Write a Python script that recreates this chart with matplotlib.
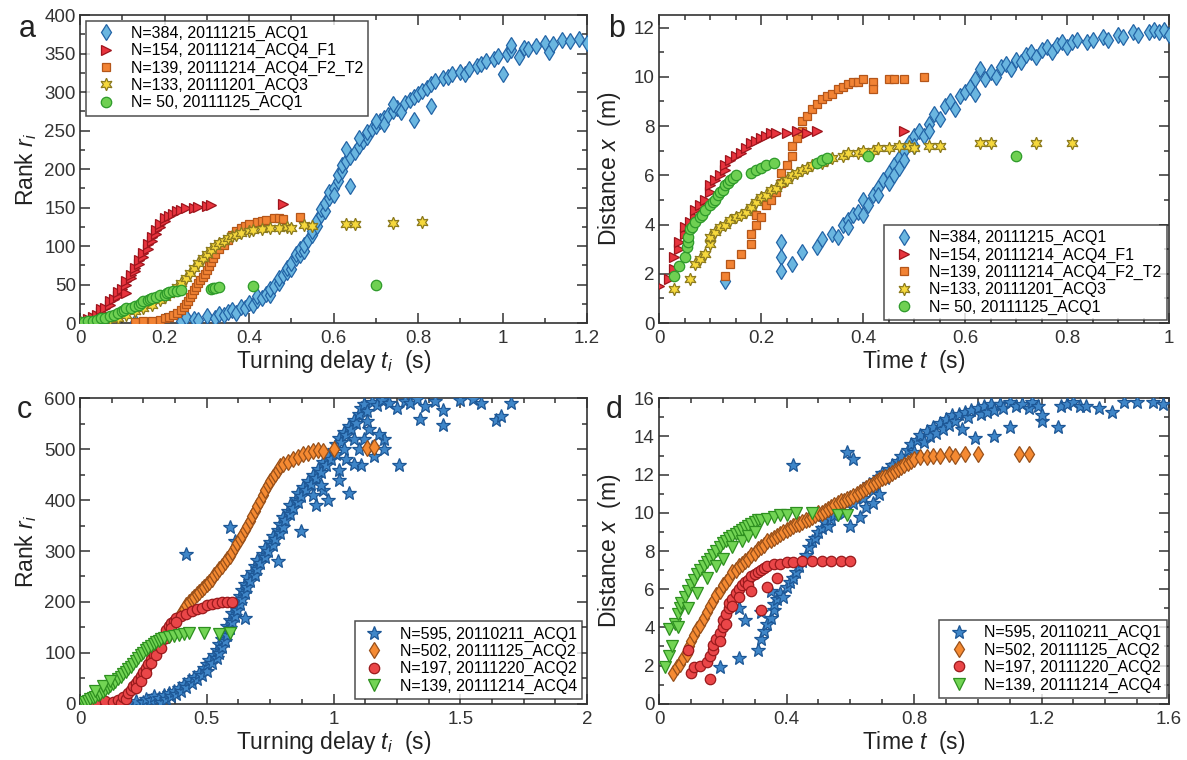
import numpy as np
import matplotlib
matplotlib.use("Agg")
import matplotlib.pyplot as plt
from matplotlib.ticker import MultipleLocator

plt.rcParams["font.family"] = ["Liberation Sans", "DejaVu Sans"]
plt.rcParams["mathtext.fontset"] = "custom"
plt.rcParams["mathtext.rm"] = "Liberation Sans"
plt.rcParams["mathtext.it"] = "Liberation Sans:italic"

# ---- panel a : rank vs turning delay (t, rank) ----
a_blue = [(0.13,1),(0.24,3),(0.25,8),(0.27,5),(0.28,4),(0.30,9),(0.32,7),(0.33,12),(0.34,10),(0.35,14),
          (0.36,17),(0.37,13),(0.38,21),(0.39,19),(0.40,26),(0.41,24),(0.42,30),(0.42,35),(0.43,33),(0.44,38),
          (0.45,36),(0.45,44),(0.46,48),(0.47,52),(0.47,58),(0.48,62),(0.49,66),(0.49,72),(0.50,70),(0.50,78),
          (0.51,84),(0.51,90),(0.52,88),(0.52,96),(0.53,94),(0.53,102),(0.54,108),(0.55,114),(0.55,120),(0.56,126),
          (0.56,134),(0.57,140),(0.57,148),(0.58,145),(0.58,156),(0.59,162),(0.59,170),(0.60,176),(0.60,166),(0.61,184),
          (0.61,192),(0.62,198),(0.62,205),(0.63,210),(0.64,216),(0.63,226),(0.64,178),(0.65,222),(0.66,230),(0.67,236),
          (0.68,242),(0.68,248),(0.69,252),(0.70,256),(0.71,262),(0.72,266),(0.72,258),(0.73,270),(0.74,276),(0.75,280),
          (0.76,274),(0.77,286),(0.78,290),(0.79,264),(0.79,294),(0.80,298),(0.81,302),(0.82,305),(0.83,282),(0.83,310),
          (0.84,314),(0.86,318),(0.87,320),(0.88,323),(0.90,326),(0.91,324),(0.92,330),(0.94,334),(0.95,337),(0.96,340),
          (0.98,343),(0.99,347),(1.00,324),(1.01,350),(1.02,355),(1.02,361),(1.04,346),(1.05,358),(1.06,356),(1.08,360),
          (1.10,364),(1.11,352),(1.12,362),(1.14,368),(1.16,366),(1.18,369),(1.20,364),(0.66,240),(0.70,262),(0.74,284)]
a_red = [(0.00,1),(0.01,3),(0.02,5),(0.03,8),(0.04,11),(0.05,14),(0.05,18),(0.06,20),(0.07,24),(0.07,28),
         (0.08,31),(0.09,35),(0.09,40),(0.10,44),(0.11,39),(0.11,49),(0.11,54),(0.12,58),(0.12,63),(0.13,67),
         (0.13,72),(0.14,77),(0.14,82),(0.15,86),(0.15,91),(0.16,96),(0.16,103),(0.17,106),(0.17,112),(0.18,116),
         (0.18,121),(0.19,125),(0.19,129),(0.20,132),(0.20,136),(0.21,139),(0.22,142),(0.23,145),(0.24,147),(0.25,149),
         (0.27,150),(0.28,151),(0.30,152),(0.31,153),(0.48,154)]
a_orange = [(0.13,1),(0.15,2),(0.17,3),(0.19,4),(0.20,6),(0.21,8),(0.22,10),(0.23,13),(0.24,17),(0.245,21),
            (0.25,25),(0.255,29),(0.26,34),(0.265,38),(0.27,43),(0.275,47),(0.28,52),(0.285,56),(0.29,60),(0.295,64),
            (0.30,69),(0.305,74),(0.31,79),(0.315,85),(0.32,90),(0.33,96),(0.34,102),(0.35,108),(0.36,114),(0.37,119),
            (0.38,123),(0.39,126),(0.40,129),(0.42,131),(0.43,133),(0.44,134),(0.46,136),(0.47,137),(0.48,135),(0.52,138)]
a_yellow = [(0.00,0),(0.03,1),(0.05,3),(0.07,5),(0.09,7),(0.11,11),(0.13,15),(0.15,19),(0.17,24),(0.19,30),
            (0.20,34),(0.21,38),(0.22,42),(0.23,47),(0.24,52),(0.25,58),(0.26,65),(0.27,72),(0.28,78),(0.29,84),
            (0.30,90),(0.31,95),(0.32,100),(0.33,104),(0.34,107),(0.35,110),(0.36,113),(0.37,115),(0.38,117),(0.40,119),
            (0.41,121),(0.43,122),(0.45,123),(0.47,124),(0.49,125),(0.50,124),(0.53,127),(0.55,126),(0.63,129),(0.65,129),
            (0.74,130),(0.81,131)]
a_green = [(0.00,1),(0.01,1),(0.02,2),(0.03,3),(0.04,4),(0.05,6),(0.06,7),(0.07,9),(0.08,11),(0.09,13),
           (0.10,15),(0.105,17),(0.11,19),(0.12,20),(0.13,22),(0.14,24),(0.145,26),(0.15,28),(0.16,30),(0.165,31),
           (0.17,33),(0.18,34),(0.19,36),(0.20,37),(0.205,39),(0.21,40),(0.22,41),(0.23,42),(0.24,43),(0.31,44),
           (0.315,45),(0.32,46),(0.33,47),(0.41,48),(0.70,49)]

# ---- panel b : distance vs time (t, x) ----
b_blue = [(0.13,1.7),(0.24,3.3),(0.24,2.7),(0.24,2.1),(0.26,2.4),(0.28,2.9),(0.31,3.1),(0.32,3.4),(0.34,3.6),(0.35,3.5),
          (0.36,4.0),(0.37,4.2),(0.37,3.9),(0.38,4.4),(0.39,4.5),(0.40,4.4),(0.40,5.0),(0.41,4.8),(0.42,5.2),(0.43,5.5),
          (0.43,5.2),(0.44,5.8),(0.45,6.1),(0.45,5.7),(0.46,6.4),(0.46,6.0),(0.47,6.7),(0.47,6.3),(0.48,7.0),(0.48,6.6),
          (0.49,7.3),(0.50,7.6),(0.50,7.2),(0.51,7.8),(0.52,7.6),(0.53,8.1),(0.53,7.8),(0.54,8.5),(0.55,8.3),(0.56,8.8),
          (0.57,9.0),(0.58,8.7),(0.59,9.2),(0.60,9.4),(0.61,9.6),(0.62,9.9),(0.62,9.3),(0.63,10.3),(0.64,9.9),(0.65,10.2),
          (0.66,10.0),(0.67,10.4),(0.68,10.5),(0.69,10.3),(0.70,10.7),(0.71,10.6),(0.72,10.9),(0.73,11.0),(0.74,10.8),(0.75,11.1),
          (0.76,11.2),(0.77,11.0),(0.78,11.3),(0.79,11.4),(0.80,11.2),(0.81,11.4),(0.82,11.5),(0.84,11.4),(0.85,11.5),(0.87,11.6),
          (0.88,11.5),(0.90,11.7),(0.91,11.6),(0.93,11.8),(0.94,11.7),(0.96,11.8),(0.97,11.9),(0.98,11.8),(0.99,11.9),(1.00,11.7)]
b_red = [(0.00,1.5),(0.02,1.8),(0.03,2.2),(0.03,2.7),(0.04,3.0),(0.04,3.3),(0.05,3.6),(0.05,3.9),(0.06,4.1),(0.07,4.3),
         (0.07,4.6),(0.08,4.8),(0.09,5.0),(0.10,5.3),(0.10,5.6),(0.11,5.8),(0.12,6.0),(0.13,6.2),(0.13,6.4),(0.14,6.6),
         (0.15,6.8),(0.16,6.9),(0.17,7.1),(0.18,7.3),(0.19,7.4),(0.20,7.5),(0.21,7.6),(0.22,7.7),(0.23,7.7),(0.25,7.7),
         (0.27,7.8),(0.29,7.7),(0.31,7.8),(0.48,7.8)]
b_orange = [(0.13,1.9),(0.14,2.4),(0.16,2.8),(0.18,3.2),(0.18,3.6),(0.19,4.0),(0.19,4.4),(0.20,4.3),(0.21,4.8),(0.22,5.0),
            (0.23,5.3),(0.24,5.7),(0.24,6.1),(0.25,6.4),(0.26,6.8),(0.26,7.2),(0.27,7.5),(0.28,7.8),(0.28,8.2),(0.29,8.4),
            (0.30,8.7),(0.31,8.9),(0.32,9.1),(0.33,9.2),(0.34,9.3),(0.35,9.5),(0.36,9.6),(0.37,9.7),(0.38,9.8),(0.39,9.8),
            (0.40,9.9),(0.42,9.8),(0.42,9.5),(0.45,9.9),(0.46,9.9),(0.48,9.9),(0.52,10.0)]
b_yellow = [(0.03,1.4),(0.06,1.8),(0.07,2.4),(0.08,2.6),(0.09,2.8),(0.10,3.2),(0.10,3.5),(0.11,3.7),(0.12,3.9),(0.13,4.0),
            (0.14,4.2),(0.15,4.3),(0.16,4.4),(0.17,4.5),(0.18,4.7),(0.19,4.9),(0.20,5.1),(0.21,5.2),(0.22,5.4),(0.23,5.5),
            (0.24,5.7),(0.25,5.8),(0.26,6.0),(0.27,6.1),(0.28,6.2),(0.29,6.3),(0.30,6.4),(0.32,6.5),(0.33,6.6),(0.34,6.7),
            (0.36,6.8),(0.37,6.9),(0.39,6.9),(0.40,7.0),(0.42,7.0),(0.43,7.1),(0.45,7.1),(0.47,7.2),(0.49,7.2),(0.50,7.1),
            (0.53,7.2),(0.55,7.2),(0.63,7.3),(0.65,7.3),(0.74,7.3),(0.81,7.3)]
b_green = [(0.03,1.9),(0.04,2.3),(0.05,2.7),(0.055,3.1),(0.056,3.3),(0.057,3.5),(0.06,3.8),(0.065,3.9),(0.07,4.1),(0.08,4.3),
           (0.085,4.4),(0.09,4.6),(0.10,4.8),(0.105,4.9),(0.11,5.0),(0.115,5.2),(0.12,5.3),(0.125,5.4),(0.13,5.6),(0.135,5.7),
           (0.14,5.8),(0.145,5.9),(0.15,6.0),(0.18,6.1),(0.19,6.2),(0.20,6.3),(0.21,6.4),(0.225,6.5),(0.31,6.5),(0.32,6.6),
           (0.33,6.7),(0.41,6.8),(0.70,6.8)]

# ---- panel c : rank vs turning delay ----
c_blue = [(0.19,2),(0.22,5),(0.25,3),(0.26,10),(0.28,7),(0.29,16),(0.31,12),(0.32,4),(0.33,18),(0.34,9),
          (0.35,22),(0.36,15),(0.37,26),(0.38,20),(0.39,31),(0.40,25),(0.41,38),(0.42,33),(0.43,46),(0.44,40),
          (0.45,53),(0.46,48),(0.47,60),(0.48,56),(0.49,70),(0.50,64),(0.50,78),(0.51,86),(0.52,80),(0.53,95),
          (0.54,90),(0.54,105),(0.55,100),(0.55,118),(0.56,112),(0.56,128),(0.57,124),(0.57,140),(0.58,135),(0.58,152),
          (0.59,148),(0.59,165),(0.60,160),(0.60,178),(0.61,172),(0.61,190),(0.62,185),(0.62,200),(0.63,196),(0.63,212),
          (0.64,205),(0.64,224),(0.65,218),(0.65,236),(0.66,230),(0.66,248),(0.67,242),(0.68,258),(0.69,252),(0.69,270),
          (0.70,264),(0.70,282),(0.71,276),(0.72,294),(0.73,288),(0.73,306),(0.74,300),(0.75,318),(0.76,312),(0.76,330),
          (0.77,324),(0.78,342),(0.79,336),(0.79,354),(0.80,348),(0.80,366),(0.81,360),(0.82,378),(0.83,372),(0.83,390),
          (0.84,384),(0.85,402),(0.86,396),(0.86,414),(0.87,408),(0.88,426),(0.89,420),(0.90,438),(0.91,432),(0.92,450),
          (0.93,444),(0.94,462),(0.95,456),(0.96,474),(0.97,468),(0.98,486),(0.99,480),(1.00,498),(1.01,510),(1.01,490),
          (1.02,522),(1.03,515),(1.04,534),(1.05,528),(1.06,546),(1.07,540),(1.08,558),(1.09,552),(1.10,570),(1.11,580),
          (1.12,588),(1.13,575),(1.15,592),(1.17,586),(1.19,596),(1.22,590),(1.25,580),(1.28,595),(1.30,590),(1.33,598),
          (1.36,585),(1.40,594),(1.50,597),(1.55,598),(1.58,590),(1.70,590),
          (0.42,295),(0.59,348),(0.61,319),(0.65,168),(0.78,281),(0.87,339),(0.98,400),(1.06,413),(0.93,390),(1.11,468),
          (1.26,468),(1.16,487),(1.20,500),(1.20,519),(1.34,560),(1.43,548),(1.43,577),(1.64,557),(1.66,565),(1.02,440),
          (0.96,420),(0.92,410),(0.95,430),(1.02,460),(1.05,480),(1.08,470),(1.10,500),(1.12,520),(1.14,540),(1.18,530),
          (1.15,505),(1.04,500),(1.08,520),(1.13,555)]
c_orange = [(0.40,179),(0.41,186),(0.42,193),(0.43,199),(0.44,205),(0.45,210),(0.46,215),(0.47,220),(0.48,225),(0.49,230),
            (0.50,236),(0.51,240),(0.52,245),(0.53,252),(0.54,258),(0.55,264),(0.56,271),(0.57,278),(0.58,284),(0.59,290),
            (0.60,298),(0.61,307),(0.62,315),(0.63,323),(0.64,332),(0.65,341),(0.66,350),(0.67,359),(0.68,368),(0.69,378),
            (0.70,388),(0.71,398),(0.72,410),(0.73,420),(0.74,429),(0.75,437),(0.76,445),(0.77,452),(0.78,460),(0.79,466),
            (0.80,470),(0.82,474),(0.84,480),(0.86,484),(0.88,490),(0.90,493),(0.92,496),(0.94,498),(0.96,496),(1.00,500),
            (1.13,502),(1.16,504)]
c_red = [(0.02,0),(0.06,2),(0.10,5),(0.13,3),(0.15,8),(0.16,1),(0.17,14),(0.18,10),(0.19,21),(0.20,27),
         (0.21,34),(0.22,40),(0.23,47),(0.24,54),(0.25,62),(0.26,70),(0.27,78),(0.28,88),(0.29,96),(0.30,105),
         (0.31,114),(0.32,124),(0.33,134),(0.34,144),(0.35,152),(0.36,158),(0.37,163),(0.38,168),(0.40,172),(0.42,177),
         (0.44,182),(0.46,186),(0.48,189),(0.50,193),(0.52,195),(0.54,197),(0.56,199),(0.58,199),(0.60,200),
         (0.22,30),(0.24,45),(0.26,60),(0.28,80),(0.30,95),(0.32,110),(0.34,130),(0.36,148),(0.38,160)]
c_green = [(0.00,0),(0.01,2),(0.02,4),(0.03,6),(0.04,9),(0.05,11),(0.06,14),(0.07,17),(0.08,20),(0.09,24),
           (0.10,28),(0.11,31),(0.12,35),(0.13,39),(0.14,43),(0.15,48),(0.16,53),(0.17,58),(0.18,63),(0.19,68),
           (0.20,73),(0.21,78),(0.22,84),(0.23,90),(0.24,95),(0.25,100),(0.26,105),(0.27,109),(0.28,113),(0.29,117),
           (0.30,121),(0.31,124),(0.32,127),(0.33,130),(0.35,132),(0.37,134),(0.39,136),(0.41,137),(0.43,138),(0.49,139),
           (0.55,137),(0.59,139),(0.06,25),(0.09,35),(0.12,45)]

# ---- panel d : distance vs time ----
d_blue = [(0.19,1.9),(0.25,2.4),(0.31,2.8),(0.32,3.4),(0.33,3.8),(0.34,4.2),(0.35,4.5),(0.36,4.9),(0.36,5.2),(0.37,5.5),
          (0.38,5.8),(0.39,5.6),(0.40,6.1),(0.41,6.4),(0.42,6.6),(0.43,6.9),(0.44,7.2),(0.45,7.5),(0.46,7.8),(0.47,8.2),
          (0.48,8.5),(0.49,8.7),(0.50,9.0),(0.51,9.2),(0.52,9.5),(0.53,9.3),(0.54,9.7),(0.55,9.9),(0.56,10.1),(0.57,10.3),
          (0.58,10.0),(0.59,10.5),(0.60,10.7),(0.61,10.5),(0.62,10.9),(0.63,11.1),(0.64,10.8),(0.65,11.3),(0.66,11.5),(0.67,11.2),
          (0.68,11.7),(0.69,11.9),(0.70,12.1),(0.71,11.8),(0.72,12.3),(0.73,12.5),(0.74,12.2),(0.75,12.7),(0.76,13.0),(0.77,12.6),
          (0.78,13.3),(0.79,13.6),(0.80,13.2),(0.81,13.8),(0.82,14.1),(0.83,13.7),(0.84,14.3),(0.85,14.0),(0.86,14.5),(0.87,14.2),
          (0.88,14.7),(0.89,14.4),(0.90,14.9),(0.91,14.6),(0.92,15.1),(0.93,14.8),(0.94,15.2),(0.95,14.4),(0.96,15.3),(0.97,15.0),
          (0.98,15.4),(0.99,13.9),(1.00,15.5),(1.01,15.2),(1.02,15.6),(1.03,15.3),(1.04,15.7),(1.05,15.4),(1.05,14.0),(1.07,15.7),
          (1.08,15.5),(1.10,15.8),(1.10,14.5),(1.12,15.6),(1.14,15.7),(1.16,15.5),(1.17,15.8),(1.19,15.6),(1.20,14.8),(1.20,15.1),
          (1.25,14.5),(1.26,15.6),(1.28,15.7),(1.30,15.8),(1.32,15.6),(1.34,15.6),(1.38,15.5),(1.42,15.3),(1.46,15.8),(1.50,15.8),
          (1.55,15.8),(1.58,15.7),
          (0.42,12.5),(0.59,13.2),(0.61,12.8),(0.25,5.0),(0.27,4.4),(0.32,4.8),(0.35,5.9),(0.60,9.3),(0.63,9.8),(0.65,10.3),
          (0.67,10.5),(0.69,11.0)]
d_orange = [(0.045,1.6),(0.055,1.9),(0.066,2.1),(0.075,2.4),(0.087,2.6),(0.095,3.0),(0.10,3.3),(0.11,3.6),(0.12,3.9),(0.13,4.1),
            (0.14,4.5),(0.15,4.8),(0.16,5.1),(0.17,5.4),(0.18,5.7),(0.19,5.9),(0.20,6.2),(0.21,6.4),(0.22,6.6),(0.23,6.9),
            (0.24,7.0),(0.25,7.2),(0.26,7.3),(0.27,7.5),(0.28,7.6),(0.29,7.8),(0.30,7.9),(0.31,8.1),(0.32,8.2),(0.33,8.3),
            (0.34,8.5),(0.35,8.6),(0.36,8.7),(0.37,8.8),(0.38,8.9),(0.39,9.0),(0.40,9.1),(0.41,9.2),(0.42,9.3),(0.43,9.4),
            (0.44,9.4),(0.45,9.5),(0.46,9.6),(0.47,9.7),(0.48,9.8),(0.49,9.9),(0.50,10.0),(0.51,10.0),(0.52,10.1),(0.53,10.2),
            (0.54,10.3),(0.55,10.4),(0.56,10.5),(0.57,10.6),(0.58,10.6),(0.59,10.7),(0.60,10.8),(0.61,10.9),(0.62,11.0),(0.63,11.1),
            (0.64,11.2),(0.65,11.3),(0.66,11.4),(0.67,11.5),(0.68,11.6),(0.69,11.7),(0.70,11.8),(0.71,11.9),(0.72,12.0),(0.73,12.1),
            (0.74,12.2),(0.75,12.3),(0.76,12.4),(0.77,12.5),(0.78,12.6),(0.79,12.7),(0.80,12.8),(0.82,12.9),(0.84,12.9),(0.86,13.0),
            (0.88,13.0),(0.91,13.1),(0.93,13.0),(0.96,13.1),(1.00,13.1),(1.13,13.1),(1.16,13.1)]
d_red = [(0.10,1.6),(0.16,1.3),(0.11,1.9),(0.13,2.0),(0.09,2.8),(0.15,2.2),(0.16,2.5),(0.17,2.8),(0.17,3.1),(0.18,3.4),
         (0.19,3.7),(0.19,3.3),(0.20,4.0),(0.20,4.4),(0.21,4.7),(0.21,4.2),(0.22,5.0),(0.22,5.3),(0.23,5.5),(0.23,5.1),
         (0.24,5.8),(0.25,6.0),(0.25,5.6),(0.26,6.2),(0.27,6.4),(0.28,6.5),(0.28,6.2),(0.29,6.7),(0.30,6.8),(0.31,6.9),
         (0.32,7.0),(0.33,7.1),(0.34,7.2),(0.36,7.3),(0.38,7.3),(0.40,7.4),(0.42,7.4),(0.45,7.5),(0.48,7.5),(0.51,7.5),
         (0.54,7.5),(0.57,7.5),(0.60,7.5),(0.29,5.9),(0.32,4.9),(0.34,6.1),(0.37,6.6)]
d_green = [(0.02,1.9),(0.03,2.5),(0.04,3.0),(0.03,3.9),(0.05,4.2),(0.06,4.7),(0.065,5.0),(0.07,5.3),(0.08,5.6),(0.09,5.9),
           (0.10,6.2),(0.11,6.5),(0.12,6.8),(0.13,7.0),(0.14,7.2),(0.15,7.4),(0.16,7.6),(0.17,7.8),(0.18,8.0),(0.19,8.2),
           (0.20,8.4),(0.21,8.5),(0.22,8.7),(0.23,8.8),(0.24,8.9),(0.25,9.0),(0.26,9.1),(0.27,9.2),(0.28,9.3),(0.29,9.4),
           (0.30,9.5),(0.31,9.6),(0.32,9.6),(0.34,9.7),(0.36,9.8),(0.38,9.9),(0.40,9.9),(0.43,10.0),(0.48,10.0),(0.56,9.9),
           (0.59,9.9),(0.06,4.0),(0.09,5.0),(0.12,5.8),(0.15,6.6),(0.18,7.2),(0.20,7.6),(0.23,8.2),(0.26,8.5),(0.28,8.8),(0.30,9.0)]

labels_top = ["N=384, 20111215_ACQ1", "N=154, 20111214_ACQ4_F1", "N=139, 20111214_ACQ4_F2_T2",
              "N=133, 20111201_ACQ3", "N= 50, 20111125_ACQ1"]
labels_bottom = ["N=595, 20110211_ACQ1", "N=502, 20111125_ACQ2", "N=197, 20111220_ACQ2",
                 "N=139, 20111214_ACQ4"]

# marker styles (marker, size, face, edge)
sty_top = [("d", 8.5, "#6ab6e0", "#2364a6"),
           (">", 7.5, "#e8343e", "#9e141c"),
           ("s", 6, "#f28334", "#b4561a"),
           ((6, 1, 0), 9, "#f6d83c", "#8c7a1e"),
           ("o", 7.5, "#6fd052", "#2e9a2a")]
sty_bottom = [("*", 10.5, "#3f86c8", "#1d5796"),
              ("d", 8.5, "#f58a32", "#98501a"),
              ("o", 7.5, "#ea4648", "#9a1a1c"),
              ("v", 8, "#72d454", "#2e9020")]


def scatter(ax, pts, sty, label, z):
    arr = np.array(pts, dtype=float)
    m, ms, fc, ec = sty
    ax.plot(arr[:, 0], arr[:, 1], linestyle="none", marker=m, ms=ms,
            mfc=fc, mec=ec, mew=0.9, label=label, zorder=z)


def style_axes(ax, xmax, ymax, xmaj, xmin, ymaj, ymin):
    ax.set_xlim(0, xmax)
    ax.set_ylim(0, ymax)
    ax.xaxis.set_major_locator(MultipleLocator(xmaj))
    ax.xaxis.set_minor_locator(MultipleLocator(xmin))
    ax.yaxis.set_major_locator(MultipleLocator(ymaj))
    ax.yaxis.set_minor_locator(MultipleLocator(ymin))
    ax.tick_params(which="both", direction="in", top=True, right=True,
                   colors="#333333", labelsize=13.5, width=1.1)
    ax.tick_params(which="major", length=7)
    ax.tick_params(axis="x", which="major", pad=5)
    ax.tick_params(axis="y", which="major", pad=3)
    ax.tick_params(which="minor", length=3.5)
    for sp in ax.spines.values():
        sp.set_color("#333333")
        sp.set_linewidth(1.2)


def fmt(v, pos):
    s = ("%.2f" % v).rstrip("0").rstrip(".")
    return s


fig = plt.figure(figsize=(11.87, 7.6), dpi=100)
ax_a = fig.add_axes([0.0674, 0.575, 0.4272, 0.405])
ax_b = fig.add_axes([0.5552, 0.575, 0.4297, 0.405])
ax_c = fig.add_axes([0.0674, 0.074, 0.4272, 0.402])
ax_d = fig.add_axes([0.5552, 0.074, 0.4297, 0.402])

for pts, sty, lab, z in zip([a_blue, a_red, a_orange, a_yellow, a_green], sty_top, labels_top, [3, 4, 3, 4, 5]):
    scatter(ax_a, pts, sty, lab, z)
for pts, sty, lab, z in zip([b_blue, b_red, b_orange, b_yellow, b_green], sty_top, labels_top, [3, 4, 3, 4, 5]):
    scatter(ax_b, pts, sty, lab, z)
for pts, sty, lab, z in zip([c_blue, c_orange, c_red, c_green], sty_bottom, labels_bottom, [3, 4, 5, 6]):
    scatter(ax_c, pts, sty, lab, z)
for pts, sty, lab, z in zip([d_blue, d_orange, d_red, d_green], sty_bottom, labels_bottom, [3, 4, 5, 6]):
    scatter(ax_d, pts, sty, lab, z)

style_axes(ax_a, 1.2, 400, 0.2, 0.1, 50, 25)
style_axes(ax_b, 1.0, 12.5, 0.2, 0.05, 2, 1)
style_axes(ax_c, 2.0, 600, 0.5, 0.125, 100, 50)
style_axes(ax_d, 1.6, 16, 0.4, 0.1, 2, 1)
for ax in (ax_a, ax_b, ax_c, ax_d):
    ax.xaxis.set_major_formatter(plt.FuncFormatter(fmt))

lab_kw = dict(fontsize=16.5, color="#222222")
ax_a.set_xlabel("Turning delay $t_i$  (s)", labelpad=1, **lab_kw)
ax_a.set_ylabel("Rank $r_i$", labelpad=4, **lab_kw)
ax_b.set_xlabel("Time $t$  (s)", labelpad=1, **lab_kw)
ax_b.set_ylabel("Distance $x$  (m)", labelpad=8, **lab_kw)
ax_c.set_xlabel("Turning delay $t_i$  (s)", labelpad=1, **lab_kw)
ax_c.set_ylabel("Rank $r_i$", labelpad=4, **lab_kw)
ax_d.set_xlabel("Time $t$  (s)", labelpad=1, **lab_kw)
ax_d.set_ylabel("Distance $x$  (m)", labelpad=8, **lab_kw)

leg_kw = dict(numpoints=1, fontsize=11.5, frameon=True, fancybox=False, borderaxespad=0,
              labelspacing=0.14, handletextpad=0.7, handlelength=1.8, borderpad=0.32)
for ax, loc, anchor in [(ax_a, "upper left", (0.012, 0.982)), (ax_b, "lower right", (0.995, 0.01)),
                        (ax_c, "lower right", (0.99, 0.016)), (ax_d, "lower right", (0.995, 0.02))]:
    lg = ax.legend(loc=loc, bbox_to_anchor=anchor, **leg_kw)
    lg.get_frame().set_edgecolor("#222222")
    lg.get_frame().set_linewidth(1.1)
    lg.set_zorder(10)

for txt, x, y in [("a", 0.016, 0.962), ("b", 0.512, 0.962), ("c", 0.014, 0.460), ("d", 0.510, 0.460)]:
    fig.text(x, y, txt, fontsize=22, color="#222222", va="center")

fig.savefig("out.png", dpi=100)
